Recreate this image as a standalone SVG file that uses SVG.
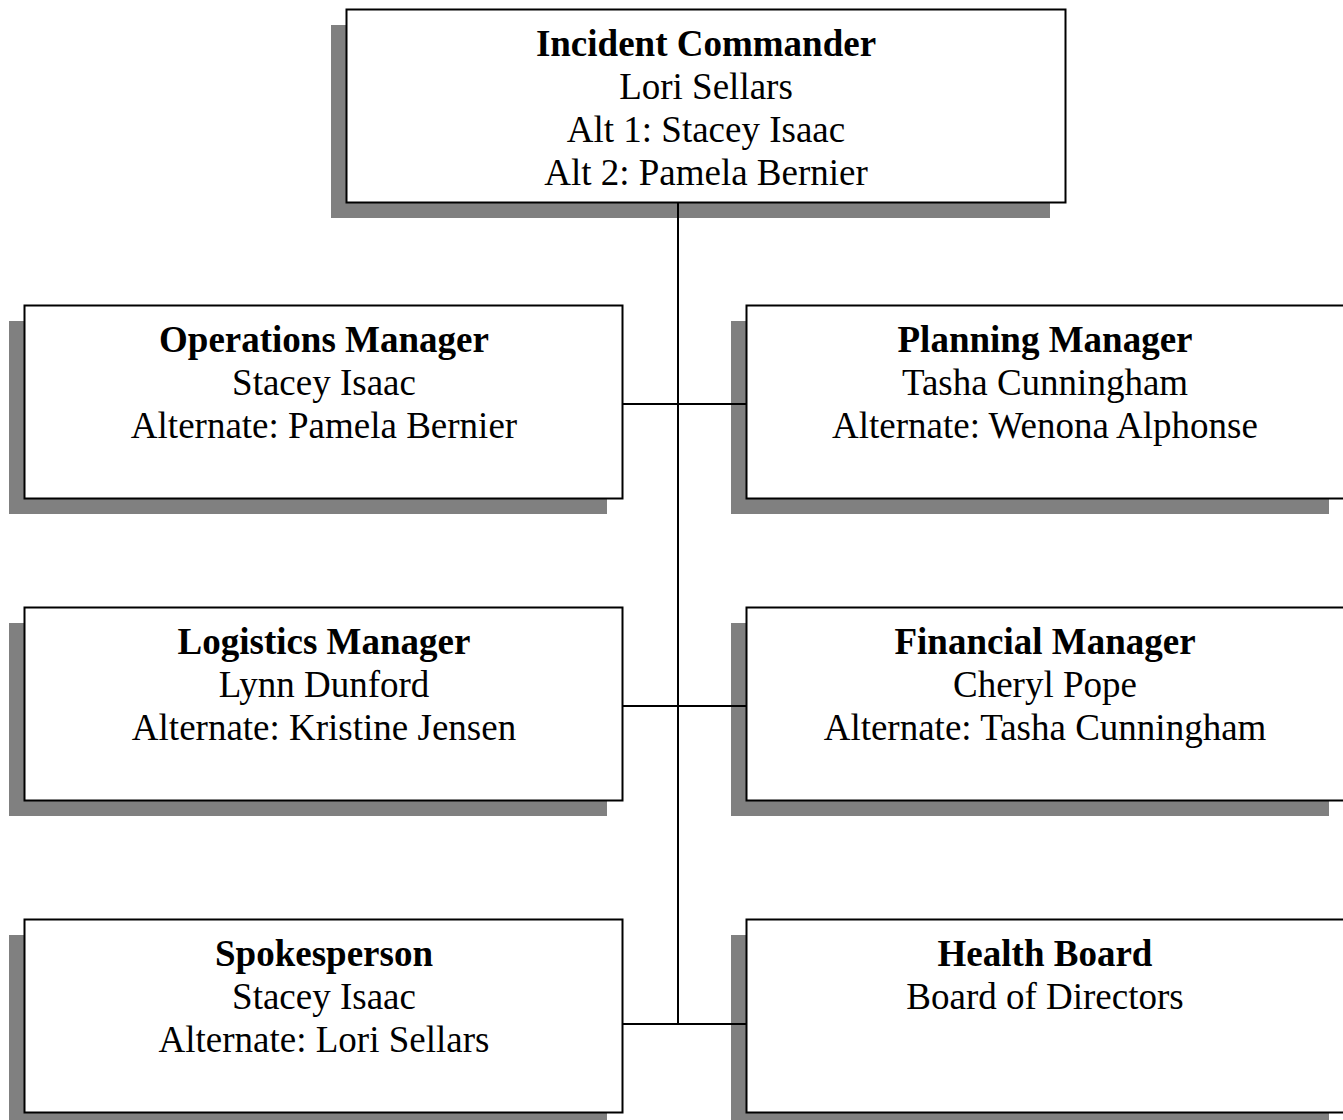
<svg xmlns="http://www.w3.org/2000/svg" width="1343" height="1120" viewBox="0 0 1343 1120">
<style>
.sh{fill:#808080;stroke:none}
.bx{fill:#fff;stroke:#000;stroke-width:2}
.t{font-family:"Liberation Serif","Times New Roman",serif;font-size:37px;text-anchor:middle;fill:#000}
.b{font-weight:bold}
.ln{stroke:#000;stroke-width:2;fill:none}
</style>
<rect width="1343" height="1120" fill="#fff"/>
<g id="commander">
<rect class="sh" x="331" y="25" width="719" height="193"/>
<rect class="bx" x="346.5" y="9.5" width="719" height="193"/>
<text class="t b" x="706" y="56">Incident Commander</text>
<text class="t" x="706" y="99">Lori Sellars</text>
<text class="t" x="706" y="142">Alt 1: Stacey Isaac</text>
<text class="t" x="706" y="185">Alt 2: Pamela Bernier</text>
</g>
<g id="operations">
<rect class="sh" x="9" y="321" width="598" height="193"/>
<rect class="bx" x="24.5" y="305.5" width="598" height="193"/>
<text class="t b" x="324" y="352">Operations Manager</text>
<text class="t" x="324" y="395">Stacey Isaac</text>
<text class="t" x="324" y="438">Alternate: Pamela Bernier</text>
</g>
<g id="planning">
<rect class="sh" x="731" y="321" width="598" height="193"/>
<rect class="bx" x="746.5" y="305.5" width="598" height="193"/>
<text class="t b" x="1045" y="352">Planning Manager</text>
<text class="t" x="1045" y="395">Tasha Cunningham</text>
<text class="t" x="1045" y="438">Alternate: Wenona Alphonse</text>
</g>
<g id="logistics">
<rect class="sh" x="9" y="623" width="598" height="193"/>
<rect class="bx" x="24.5" y="607.5" width="598" height="193"/>
<text class="t b" x="324" y="654">Logistics Manager</text>
<text class="t" x="324" y="697">Lynn Dunford</text>
<text class="t" x="324" y="740">Alternate: Kristine Jensen</text>
</g>
<g id="financial">
<rect class="sh" x="731" y="623" width="598" height="193"/>
<rect class="bx" x="746.5" y="607.5" width="598" height="193"/>
<text class="t b" x="1045" y="654">Financial Manager</text>
<text class="t" x="1045" y="697">Cheryl Pope</text>
<text class="t" x="1045" y="740">Alternate: Tasha Cunningham</text>
</g>
<g id="spokesperson">
<rect class="sh" x="9" y="935" width="598" height="193"/>
<rect class="bx" x="24.5" y="919.5" width="598" height="193"/>
<text class="t b" x="324" y="966">Spokesperson</text>
<text class="t" x="324" y="1009">Stacey Isaac</text>
<text class="t" x="324" y="1052">Alternate: Lori Sellars</text>
</g>
<g id="healthboard">
<rect class="sh" x="731" y="935" width="598" height="193"/>
<rect class="bx" x="746.5" y="919.5" width="598" height="193"/>
<text class="t b" x="1045" y="966">Health Board</text>
<text class="t" x="1045" y="1009">Board of Directors</text>
</g>
<g id="connectors">
<path class="ln" d="M678 203 V1024 M623 404 H746 M623 706 H746 M623 1024 H746"/>
</g>
</svg>
